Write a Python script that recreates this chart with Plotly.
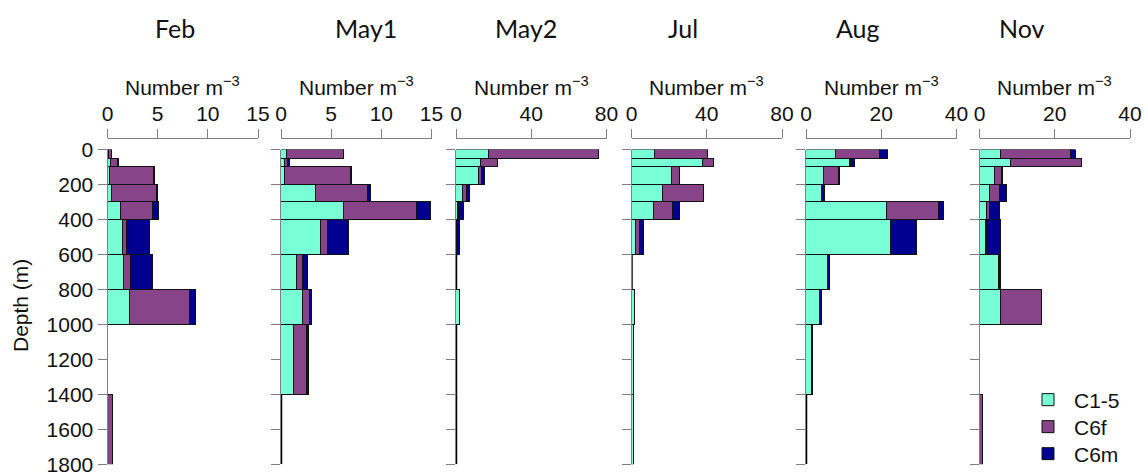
import plotly.graph_objects as go

# Depth bins (m)
depth_top = [0, 50, 100, 200, 300, 400, 600, 800, 1000, 1400]
depth_bottom = [50, 100, 200, 300, 400, 600, 800, 1000, 1400, 1800]

months = ["Feb", "May1", "May2", "Jul", "Aug", "Nov"]
x_max = [15, 15, 80, 80, 40, 40]
x_ticks = [[0, 5, 10, 15], [0, 5, 10, 15], [0, 40, 80], [0, 40, 80], [0, 20, 40], [0, 20, 40]]

# Abundance (number m^-3) per depth bin; None = not sampled
feb_c15 = [0.05, 0.25, 0.17, 0.43, 1.27, 1.5, 1.6, 2.23, None, 0.0]
feb_c6f = [0.35, 0.75, 4.4, 4.47, 3.23, 0.37, 0.73, 5.93, None, 0.5]
feb_c6m = [0.0, 0.05, 0.1, 0.1, 0.57, 2.33, 2.2, 0.57, None, 0.0]

may1_c15 = [0.6, 0.4, 0.4, 3.48, 6.29, 3.97, 1.59, 2.15, 1.32, 0]
may1_c6f = [5.63, 0.3, 6.6, 5.17, 7.22, 0.7, 0.56, 0.7, 1.26, 0]
may1_c6m = [0, 0.2, 0.05, 0.3, 1.42, 2.12, 0.53, 0.23, 0.26, 0]

may2_c15 = [17.5, 13.2, 12.3, 3.9, 0.9, 0.35, 0, 2.2, 0, 0]
may2_c6f = [58.4, 9.1, 1.75, 1.9, 0.5, 0.15, 0, 0, 0, 0]
may2_c6m = [0, 0, 1.2, 1.75, 3.0, 1.4, 0, 0.1, 0, 0]

jul_c15 = [12.4, 37.7, 21.0, 16.3, 11.9, 2.3, 0, 1.6, 0.8, 0.8]
jul_c6f = [27.9, 5.7, 4.3, 22.2, 9.9, 1.8, 0, 0, 0, 0]
jul_c6m = [0, 0, 0, 0, 3.55, 2.5, 0, 0, 0, 0]

aug_c15 = [7.9, 11.8, 4.7, 4.2, 21.6, 22.6, 5.96, 3.7, 1.7, 0]
aug_c6f = [11.8, 0.2, 4.2, 0.1, 13.7, 0, 0, 0, 0, 0]
aug_c6m = [2.1, 0.9, 0.1, 0.8, 1.5, 6.9, 0.5, 0.6, 0.2, 0]

nov_c15 = [5.5, 8.3, 4.0, 2.65, 1.95, 1.6, 5.0, 5.7, None, 0]
nov_c6f = [18.8, 18.8, 1.8, 2.55, 0.6, 0.35, 0.1, 10.9, None, 0.7]
nov_c6m = [1.15, 0.1, 0.2, 1.85, 2.65, 3.7, 0.5, 0, None, 0]

panels = [
    (feb_c15, feb_c6f, feb_c6m),
    (may1_c15, may1_c6f, may1_c6m),
    (may2_c15, may2_c6f, may2_c6m),
    (jul_c15, jul_c6f, jul_c6m),
    (aug_c15, aug_c6f, aug_c6m),
    (nov_c15, nov_c6f, nov_c6m),
]

stage_names = ["C1-5", "C6f", "C6m"]
stage_colors = ["#78FFD6", "#884488", "#000090"]

W, H = 1146, 475
panel_left = [107.5, 281, 456, 631.5, 806, 979.5]
panel_width = 150.5
plot_top, plot_bottom = 149.5, 464.3
xaxis_line_y = 138

title_x = [175, 366, 526, 683, 858, 1022]
label_font = "Liberation Sans, Arial, sans-serif"
fs = 21

mid = [(a + b) / 2 for a, b in zip(depth_top, depth_bottom)]
thick = [b - a for a, b in zip(depth_top, depth_bottom)]

legend_names = ["legend", "legend2", "legend3"]
legend_row_y = [400, 427, 454]

fig = go.Figure()
annotations = []

for i, (vals, mname) in enumerate(zip(panels, months)):
    xa = "x" if i == 0 else f"x{i + 1}"
    ya = "y" if i == 0 else f"y{i + 1}"
    for k in range(3):
        fig.add_trace(go.Bar(
            x=vals[k], y=mid, width=thick, orientation="h",
            name=stage_names[k], legendgroup=stage_names[k], showlegend=(i == 0),
            legend=legend_names[k],
            marker=dict(color=stage_colors[k], line=dict(color="#111111", width=1)),
            xaxis=xa, yaxis=ya,
        ))
    # bins sampled but empty: drawn as a dark line along the axis
    for j in range(len(mid)):
        if vals[0][j] is not None and (vals[0][j] + vals[1][j] + vals[2][j]) == 0:
            fig.add_trace(go.Scatter(
                x=[0, 0], y=[depth_top[j], depth_bottom[j]], mode="lines",
                line=dict(color="#000000", width=2.5), showlegend=False,
                hoverinfo="skip", xaxis=xa, yaxis=ya,
            ))

    x0 = panel_left[i] / W
    x1 = (panel_left[i] + panel_width) / W
    xkey = "xaxis" if i == 0 else f"xaxis{i + 1}"
    ykey = "yaxis" if i == 0 else f"yaxis{i + 1}"
    fig.update_layout(**{
        xkey: dict(
            domain=[x0, x1], range=[0, x_max[i]], side="top", anchor="free",
            position=(H - xaxis_line_y) / H, tickvals=x_ticks[i],
            ticks="outside", ticklen=9, tickcolor="#808080", tickwidth=1,
            showline=True, linecolor="#808080", linewidth=1,
            showgrid=False, zeroline=False, fixedrange=True, automargin=False,
            ticklabeloverflow="allow",
            tickfont=dict(family=label_font, size=fs, color="#111111"),
        ),
        ykey: dict(
            domain=[(H - plot_bottom) / H, (H - plot_top) / H],
            range=[1800, 0], anchor=xa, tickvals=list(range(0, 1801, 200)),
            ticks="outside", ticklen=9, tickcolor="#808080", tickwidth=1,
            showline=True, linecolor="#808080", linewidth=1,
            showgrid=False, zeroline=False, fixedrange=True, automargin=False,
            showticklabels=(i == 0), ticklabeloverflow="allow",
            tickfont=dict(family=label_font, size=fs, color="#111111"),
        ),
    })
    annotations.append(dict(
        text=mname, x=title_x[i] / W, y=(H - 28) / H, xref="paper", yref="paper",
        showarrow=False, xanchor="center", yanchor="middle",
        font=dict(family="Lato, sans-serif", size=25, color="#111111"),
    ))
    annotations.append(dict(
        text="Number m<sup>\u22123</sup>", x=(panel_left[i] + panel_width / 2) / W,
        y=(H - 86) / H, xref="paper", yref="paper", showarrow=False,
        xanchor="center", yanchor="middle",
        font=dict(family=label_font, size=fs, color="#111111"),
    ))

annotations.append(dict(
    text="Depth (m)", x=20 / W, y=(H - 306) / H, xref="paper", yref="paper",
    showarrow=False, textangle=-90, xanchor="center", yanchor="middle",
    font=dict(family=label_font, size=fs, color="#111111"),
))

legend_common = dict(
    xanchor="left", yanchor="middle", bgcolor="rgba(0,0,0,0)",
    font=dict(family=label_font, size=fs, color="#111111"),
    itemwidth=42,
)
legend_layout = {}
for name, ry in zip(legend_names, legend_row_y):
    legend_layout[name] = dict(x=1022 / W, y=(H - ry) / H, **legend_common)

fig.update_layout(
    width=W, height=H, barmode="stack", bargap=0,
    margin=dict(l=0, r=0, t=0, b=0, pad=0, autoexpand=False),
    paper_bgcolor="white", plot_bgcolor="white",
    annotations=annotations,
    **legend_layout,
)

fig.write_html("out.html")
